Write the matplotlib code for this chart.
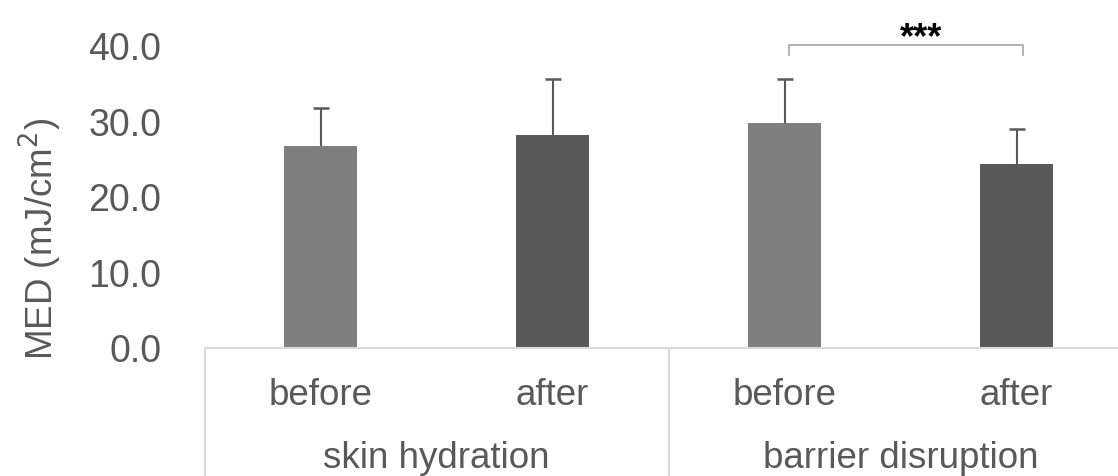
import numpy as np
import matplotlib.pyplot as plt
import matplotlib.transforms as mtransforms

plt.rcParams['font.family'] = ['Liberation Sans', 'DejaVu Sans']

# data
groups = ['skin hydration', 'barrier disruption']
conditions = ['before', 'after', 'before', 'after']
med = [26.7, 28.1, 29.8, 24.3]
sd = [5.0, 7.5, 5.7, 4.6]
bar_cols = ['#7f7f7f', '#595959', '#7f7f7f', '#595959']
yticks = [0, 10, 20, 30, 40]

txt = '#595959'

fig = plt.figure(figsize=(11.18, 4.77), dpi=100)
ax = fig.add_axes([204.5/1118, 128.5/477, 928/1118, 302/477])

x = np.arange(len(med))
med = np.array(med)
sd = np.array(sd)
ax.bar(x, med, width=0.315, color=bar_cols, zorder=2)
# upper error bars only, cap at the top end
ax.errorbar(x, med, yerr=[np.zeros(len(sd)), sd], fmt='none',
            ecolor='#595959', elinewidth=1.5, capsize=0, zorder=3)
ax.plot(x, med + sd, ls='none', marker='_', markersize=12, mew=1.8,
        color='#595959', zorder=3)

ax.set_xlim(-0.5, 3.5)
ax.set_ylim(0, 40)
ax.set_yticks(yticks)
ax.set_yticklabels(['%.1f' % v for v in yticks], fontsize=27, color=txt)
ax.tick_params(axis='y', length=0, pad=31)
ax.set_xticks([])

for s in ['top', 'right', 'left']:
    ax.spines[s].set_visible(False)
ax.spines['bottom'].set_color('#d9d9d9')
ax.spines['bottom'].set_linewidth(1.5)

# category axis: labels and separators below the plot
trans = mtransforms.blended_transform_factory(ax.transData, ax.transAxes)
for xi, lab in zip(x, conditions):
    ax.text(xi, -0.157, lab, transform=trans, ha='center', va='center',
            fontsize=26.5, color=txt)
for gi, g in enumerate(groups):
    ax.text(0.5 + 2*gi, -0.365, g, transform=trans, ha='center', va='center',
            fontsize=26.5, color=txt)
for xs in [-0.5, 1.5, 3.5]:
    ax.plot([xs, xs], [0, -0.5], transform=trans, color='#d9d9d9', lw=1.5,
            clip_on=False)

# significance bracket
ax.plot([2.02, 2.02, 3.03, 3.03], [38.8, 40.1, 40.1, 38.8], color='#a6a6a6',
        lw=1.2, clip_on=False)
ax.text(2.59, 39.8, '***', ha='center', va='baseline', fontsize=26,
        color='black', fontweight='bold', clip_on=False)

fig.text(40/1118, 0.50, 'MED (mJ/cm$^2$)', rotation=90, ha='center', va='center',
         fontsize=26.5, color=txt)

fig.savefig('out.png', dpi=100)
